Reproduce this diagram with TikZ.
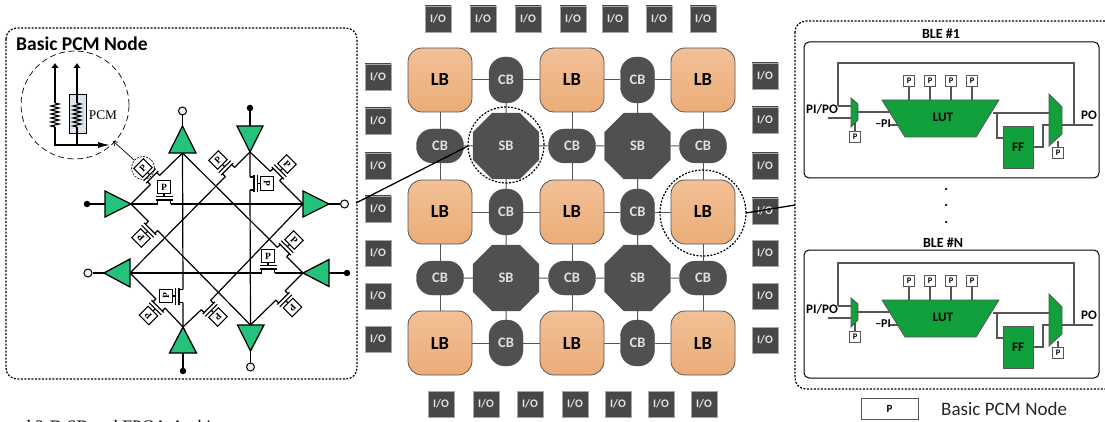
\documentclass[tikz,border=0pt]{standalone}
\usepackage{fontspec}
\setmainfont{Carlito}
\newfontfamily\serifx{Liberation Serif}
\usetikzlibrary{shapes.geometric,arrows.meta,backgrounds,decorations.pathmorphing}
\newcommand{\fsz}[1]{\fontsize{#1}{#1}\selectfont}
\definecolor{lbtop}{HTML}{F2C097}
\definecolor{lbbot}{HTML}{EBAD78}
\definecolor{cbgray}{HTML}{505050}
\definecolor{trig}{HTML}{24C27B}
\definecolor{lutg}{HTML}{12A03C}
\definecolor{wire}{HTML}{555555}
\definecolor{pcmfill}{HTML}{DDE4EE}
\tikzset{
  lbnode/.style={draw=wire,line width=.8pt,rounded corners=14pt,minimum width=64pt,minimum height=64pt,inner sep=0pt,top color=lbtop,bottom color=lbbot,font=\fsz{18.5}\bfseries,text=black},
  cbv/.style={fill=cbgray,draw=cbgray,rounded corners=16pt,minimum width=34pt,minimum height=46pt,inner sep=0pt,font=\fsz{14.5}\bfseries,text=white!88!black},
  cbh/.style={cbv,minimum width=47pt,minimum height=34pt},
  sbnode/.style={regular polygon,regular polygon sides=8,minimum size=71.4pt,inner sep=0pt,fill=cbgray,draw=cbgray,font=\fsz{14.5}\bfseries,text=white!88!black},
  ionode/.style={minimum width=26pt,minimum height=26pt,inner sep=0pt,top color=cbgray!105,bottom color=cbgray!90!black,draw=gray!70,line width=.4pt,font=\fsz{11.5}\bfseries,text=white!90!black},
  gridwire/.style={draw=wire,line width=1pt},
  dashbox/.style={draw=black,line width=1.2pt,dash pattern=on 2pt off 1.5pt},
  ckt/.style={draw=black,line width=1.2pt},
  tri/.style={draw=black,line width=1.3pt,fill=trig,line join=miter},
  ocirc/.style={circle,draw=black,line width=1pt,fill=blue!5,minimum size=8pt,inner sep=0pt},
  fdot/.style={circle,fill=black,minimum size=6.5pt,inner sep=0pt},
  xbox/.style={draw=black,line width=1.1pt,fill=white,minimum width=13.5pt,minimum height=12.5pt,inner sep=0pt,font=\serifx\bfseries\fsz{9.5}},
  sp/.style={draw=wire,line width=1.1pt,fill=white,minimum width=11.5pt,minimum height=11.5pt,inner sep=0pt,font=\fsz{8.5}\bfseries},
  wr/.style={draw=wire,line width=1.1pt},
  gblock/.style={draw=wire,line width=.8pt,fill=lutg},
  bltxt/.style={font=\fsz{13}\bfseries,text=black,inner sep=0pt},
  bigc/.style={draw=black,line width=.7pt,dash pattern=on 6pt off 3.5pt},
}
% transistor: #1 name, #2 x, #3 y, #4 rotation
\newcommand{\xtor}[4]{%
  \begin{scope}[shift={(#2,#3)},rotate=#4]
    \coordinate (#1a) at (-6.5,0);
    \coordinate (#1b) at (6.5,0);
    \draw[ckt] (-6.5,0) -- (-6.5,-4);
    \draw[ckt] (6.5,0) -- (6.5,-4);
    \draw[ckt] (-8.5,-4) -- (8.5,-4);
    \draw[ckt] (-8.5,-7.5) -- (8.5,-7.5);
    \node[xbox,transform shape] (#1p) at (0,-17) {P};
    \draw[ckt] (0,-7.5) -- (#1p);
  \end{scope}}
% BLE contents
\newcommand{\blecont}[2]{%
  \begin{scope}[shift={(0,#2)}]
    \draw[wr] (838,106) -- (838,63) -- (1074,63) -- (1074,125);
    \draw[wr] (838,106) -- (851,106);
    \draw[wr] (828,118) -- (851,118);
    \draw[wr] (858,112) -- (890,112);
    \draw[wr] (993,113) -- (1049,113);
    \draw[wr] (997,113) -- (997,138) -- (1003,138);
    \draw[wr] (1033,147) -- (1043,147) -- (1043,125) -- (1049,125);
    \draw[wr] (1062,125) -- (1093,125);
    \draw[wr] (890,125) -- (899,125);
    \node[sp] (#1m) at (855,137) {P};
    \draw[wr] (855,123) -- (#1m);
    \foreach \px/\q in {909/a,930/b,951/c,972/d}{
      \node[sp] (#1\q) at (\px,81) {P};
      \draw[wr] (#1\q) -- (\px,100);
    }
    \node[sp] (#1o) at (1058,153) {P};
    \draw[wr] (1058,141) -- (#1o);
    \filldraw[gblock] (851,98) -- (858,104) -- (858,120) -- (851,127) -- cycle;
    \filldraw[gblock] (882,100) -- (999,100) -- (976,137) -- (905,137) -- cycle;
    \filldraw[gblock] (1049,94) -- (1062,107) -- (1062,134) -- (1049,146) -- cycle;
    \node[gblock,minimum width=30pt,minimum height=42pt,inner sep=0pt,bltxt] (#1ff) at (1018,147) {FF};
    \node[bltxt] at (822,109) {PI/PO};
    \node[bltxt] at (943,117) {LUT};
    \node[bltxt,font=\fsz{12}\bfseries,anchor=east] at (891,124) {–PI};
    \node[bltxt] at (1089,115) {PO};
  \end{scope}}
\begin{document}
\begin{tikzpicture}[x=1pt,y=-1pt]
\path[use as bounding box] (0,0) rectangle (1105,422);
\begin{scope}
\clip (0,0) rectangle (1105,422);
\node[anchor=base west,inner sep=0pt,font=\serifx\fsz{17.5}] (cap) at (22,432) {d 2-D SB and FPGA Archi};
\draw[dashbox,rounded corners=11pt] (795,21) rectangle (1125,389);
\end{scope}
%% ---------- central fabric
\foreach \cx/\i in {440/1,572/2,703/3}
  \foreach \cy/\j in {80/1,212/2,343/3}
    \node[lbnode] (lb\i\j) at (\cx,\cy) {LB};
\foreach \cx/\i in {506/1,637.5/2}
  \foreach \cy/\j in {80/1,212/2,343/3}
    \node[cbv] (cv\i\j) at (\cx,\cy) {CB};
\foreach \cx/\i in {440/1,572/2,703/3}
  \foreach \cy/\j in {146/1,278/2}
    \node[cbh] (ch\i\j) at (\cx,\cy) {CB};
\foreach \cx/\i in {506/1,637.5/2}
  \foreach \cy/\j in {146/1,278/2}
    \node[sbnode] (sb\i\j) at (\cx,\cy) {SB};
\begin{scope}[on background layer]
  \foreach \i/\n in {1/2,2/3}
    \foreach \j in {1,2,3}
      \draw[gridwire] (lb\i\j) -- (cv\i\j) -- (lb\n\j);
  \foreach \i in {1,2,3}
    \foreach \j/\n in {1/2,2/3}
      \draw[gridwire] (lb\i\j) -- (ch\i\j) -- (lb\i\n);
  \foreach \i/\n in {1/2,2/3}
    \foreach \j in {1,2}
      \draw[gridwire] (ch\i\j) -- (sb\i\j) -- (ch\n\j);
  \foreach \i in {1,2}
    \foreach \j/\n in {1/2,2/3}
      \draw[gridwire] (cv\i\j) -- (sb\i\j) -- (cv\i\n);
\end{scope}
%% ---------- I/O pads
\foreach \px/\k in {438/1,483/2,528/3,573/4,615/5,659/6,703/7}
  \node[ionode] (iot\k) at (\px,19) {I/O};
\foreach \px/\k in {441/1,486/2,530/3,575/4,618/5,661/6,704/7}
  \node[ionode] (iob\k) at (\px,404) {I/O};
\foreach \py/\k in {77/1,121/2,166/3,209/4,253/5,296/6,339/7}
  \node[ionode] (iol\k) at (378,\py) {I/O};
\foreach \py/\k in {76/1,120/2,166/3,211/4,253/5,296/6,340/7}
  \node[ionode] (ior\k) at (765,\py) {I/O};
%% ---------- highlight circles and leaders
\node[circle,dashbox,minimum size=76pt,inner sep=0pt] (sbring) at (506,145) {};
\node[circle,dashbox,minimum size=86pt,inner sep=0pt] (lbring) at (703,213) {};
\coordinate (leftedge) at (356,203);
\coordinate (rightedge) at (795,205);
\draw[black,line width=1.3pt] (leftedge) -- (468,146);
\draw[black,line width=1.3pt] (746,213) -- (rightedge);
%% ---------- left panel
\draw[dashbox,rounded corners=11pt] (6,28) rectangle (357,379);
\node[anchor=west,inner sep=0pt,font=\fsz{19.5}\bfseries] (title) at (16,44) {Basic PCM Node};
% triangles
\coordinate (Tt) at (182.5,153);
\coordinate (Bt) at (183,327);
\coordinate (Ts) at (250,152);
\coordinate (Bs) at (250.5,325);
\coordinate (Lt) at (131,204);
\coordinate (Rt) at (303,204);
\coordinate (Ls) at (130,273);
\coordinate (Rs) at (303,273);
% transistors
\xtor{n1}{164}{204}{0}
\xtor{n2}{268}{273}{0}
\xtor{n3}{250}{183.5}{-90}
\xtor{n4}{183}{296}{90}
\xtor{n5}{155}{180}{45}
\xtor{n6}{230}{172}{45}
\xtor{n7}{275}{176}{-45}
\xtor{n8}{282}{252}{-45}
\xtor{n9}{280.5}{295.5}{-135}
\xtor{n10}{153}{226}{135}
\xtor{n11}{160.5}{303.5}{135}
\xtor{n12}{206}{305}{-135}
\draw[ckt] (Lt) -- (n1a) (n1b) -- (Rt);
\draw[ckt] (Ls) -- (n2a) (n2b) -- (Rs);
\draw[ckt] (Ts) -- (n3a) (n3b) -- (Bs);
\draw[ckt] (Bt) -- (n4a) (n4b) -- (Tt);
\draw[ckt] (Lt) -- (n5a) (n5b) -- (Tt);
\draw[ckt] (Ls) -- (n6a) (n6b) -- (Ts);
\draw[ckt] (Ts) -- (n7a) (n7b) -- (Rt);
\draw[ckt] (Tt) -- (n8a) (n8b) -- (Rs);
\draw[ckt] (Rs) -- (n9a) (n9b) -- (Bs);
\draw[ckt] (Bs) -- (n10a) (n10b) -- (Lt);
\draw[ckt] (Bt) -- (n11a) (n11b) -- (Ls);
\draw[ckt] (Rt) -- (n12a) (n12b) -- (Bt);
\node[ocirc] (o1) at (182.5,111) {};
\node[fdot] (d1) at (183,371) {};
\node[fdot] (d2) at (250,108) {};
\node[ocirc] (o2) at (250.5,367) {};
\node[fdot] (d3) at (87,204) {};
\node[ocirc] (o3) at (344.5,204) {};
\node[ocirc] (o4) at (88,273) {};
\node[fdot] (d4) at (347,273) {};
\draw[black,line width=1.3pt] (o1) -- (182.5,127);
\draw[black,line width=1.3pt] (d1) -- (183,353);
\draw[black,line width=1.3pt] (d2) -- (250,126);
\draw[black,line width=1.3pt] (o2) -- (250.5,351);
\draw[black,line width=1.3pt] (d3) -- (105,204);
\draw[black,line width=1.3pt] (o3) -- (329,204);
\draw[black,line width=1.3pt] (o4) -- (104,273);
\draw[black,line width=1.3pt] (d4) -- (329,273);
\filldraw[tri] (169,153) -- (196,153) -- (182.5,126) -- cycle;
\filldraw[tri] (Bt) -- (196.5,353) -- (169.5,353) -- cycle;
\filldraw[tri] (237,126) -- (263,126) -- (Ts) -- cycle;
\filldraw[tri] (237.5,325) -- (264,325) -- (250.5,351) -- cycle;
\filldraw[tri] (105,191) -- (Lt) -- (105,217) -- cycle;
\filldraw[tri] (303,191) -- (329,204) -- (303,217) -- cycle;
\filldraw[tri] (104,273) -- (130,259) -- (130,287) -- cycle;
\filldraw[tri] (Rs) -- (329,259.5) -- (329,286.5) -- cycle;
% PCM inset
\node[circle,bigc,minimum size=108pt,inner sep=0pt] (inset) at (75,105) {};
\node[circle,draw=black,line width=.6pt,dash pattern=on 2pt off 1.2pt,minimum size=23pt,inner sep=0pt] (pring) at (143,168) {};
\draw[-{Straight Barb[length=4pt,width=5pt]},black,line width=.7pt] (pring) -- (113,141);
\node[draw=black,line width=1pt,fill=pcmfill,minimum width=17pt,minimum height=39pt,inner sep=0pt] (pcmb) at (77.5,114.5) {};
\coordinate (tipa) at (55,63);
\coordinate (tipb) at (77,63);
\coordinate (hb) at (110,145);
\draw[black,line width=1.1pt,-{Latex[length=5pt,width=8pt]}] (55,103) -- (tipa);
\draw[black,line width=1.1pt,-{Latex[length=5pt,width=8pt]}] (77,103) -- (tipb);
\draw[black,line width=1.1pt,-{Latex[length=12pt,width=6pt]}] (55,127) -- (55,145) -- (hb);
\draw[black,line width=1.1pt] (77,127) -- (77,145);
\draw[black,line width=1.1pt,decorate,decoration={zigzag,segment length=4pt,amplitude=4pt}] (55,103) -- (55,127);
\draw[black,line width=1.1pt,decorate,decoration={zigzag,segment length=4pt,amplitude=4pt}] (77,103) -- (77,127);
\node[font=\serifx\fsz{13.3},inner sep=0pt] (pcmt) at (103,115) {PCM};
%% ---------- right panel
\draw[black,line width=1pt,rounded corners=5pt] (804,42) rectangle (1099,178);
\draw[black,line width=1pt,rounded corners=5pt] (804,250) rectangle (1099,378);
\node[bltxt,font=\fsz{14}\bfseries] (ble1) at (941,34) {BLE \#1};
\node[bltxt,font=\fsz{14}\bfseries] (blen) at (943,243) {BLE \#N};
\blecont{u}{0}
\blecont{v}{200}
\foreach \py in {189,205,222}
  \node[circle,fill=black,minimum size=2.5pt,inner sep=0pt] at (946,\py) {};
%% ---------- legend
\node[draw=wire,line width=1pt,minimum width=57pt,minimum height=21pt,inner sep=0pt,font=\fsz{11}\bfseries] (legp) at (889.5,408.5) {P};
\node[anchor=west,inner sep=0pt,font=\fsz{19},text=black!85] (legt) at (941,409) {Basic PCM Node};
\end{tikzpicture}
\end{document}
